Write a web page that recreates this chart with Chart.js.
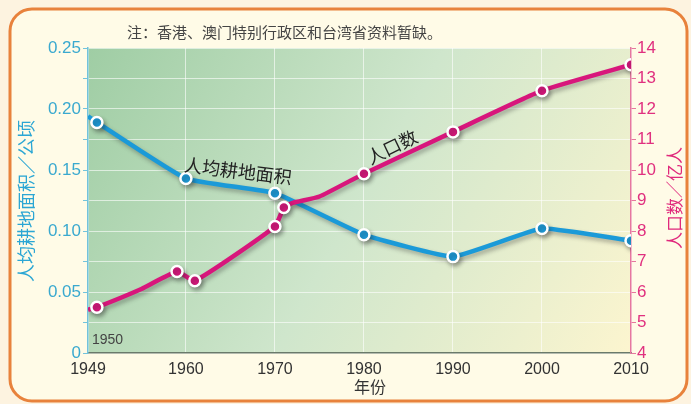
<!DOCTYPE html>
<html lang="zh">
<head>
<meta charset="UTF-8">
<title>人均耕地面积与人口数</title>
<script src="https://cdn.jsdelivr.net/npm/chart.js@4.4.0/dist/chart.umd.min.js"></script>
<style>
  html, body { margin: 0; padding: 0; background: #fdf3e0; }
  #wrap { width: 691px; height: 404px; }
</style>
</head>
<body>
<div id="wrap"><canvas id="chart" width="691" height="404"></canvas></div>
<script>
// x axis tick labels
const yearTicks = [1949, 1960, 1970, 1980, 1990, 2000, 2010];

// 人均耕地面积 (公顷) - left axis
const landYears = [1949, 1950, 1960, 1970, 1980, 1990, 2000, 2010];
const landArea  = [0.194, 0.189, 0.143, 0.131, 0.097, 0.079, 0.102, 0.092];
const landMarked = [1950, 1960, 1970, 1980, 1990, 2000, 2010];

// 人口数 (亿人) - right axis
const popYears = [1949, 1950, 1955, 1959, 1961, 1970, 1971, 1972, 1975, 1980, 1990, 2000, 2010];
const popValues = [5.42, 5.5, 6.1, 6.67, 6.37, 8.15, 8.77, 8.92, 9.13, 9.88, 11.25, 12.6, 13.45];
const popMarked = [1950, 1959, 1961, 1970, 1971, 1980, 1990, 2000, 2010];

const BLUE = '#1b9ad8';
const PINK = '#d8167c';
const FONT = '"Liberation Sans", Arial, sans-serif';
const CJK = '"Noto Sans CJK SC", "Noto Sans", sans-serif';

const toPoints = (xs, ys) => xs.map((x, i) => ({ x: x, y: ys[i] }));

// frame + gradient plot background
const backdrop = {
  id: 'backdrop',
  beforeDraw(chart) {
    const c = chart.ctx, a = chart.chartArea;
    c.save();
    c.fillStyle = '#fdf3e0';
    c.fillRect(0, 0, chart.width, chart.height);
    c.beginPath();
    c.roundRect(10, 9, 677, 392, 22);
    c.fillStyle = '#fffbe7';
    c.fill();
    c.lineWidth = 3;
    c.strokeStyle = '#e8823c';
    c.stroke();
    const g = c.createLinearGradient(a.left, a.top, a.right, a.bottom);
    g.addColorStop(0, '#9fcda4');
    g.addColorStop(0.5, '#cfe6cc');
    g.addColorStop(1, '#fcf5cf');
    c.fillStyle = g;
    c.fillRect(a.left, a.top, a.right - a.left, a.bottom - a.top);
    c.restore();
  }
};

// soft drop shadow under the lines
const lineShadow = {
  id: 'lineShadow',
  beforeDatasetsDraw(chart) {
    const c = chart.ctx;
    c.save();
    c.shadowColor = 'rgba(40,40,40,0.35)';
    c.shadowBlur = 4;
    c.shadowOffsetX = 2;
    c.shadowOffsetY = 3;
  },
  afterDatasetsDraw(chart) {
    chart.ctx.restore();
  }
};

// note, axis titles and line labels
const labels = {
  id: 'labels',
  afterDraw(chart) {
    const c = chart.ctx;
    c.save();
    c.textBaseline = 'middle';

    c.fillStyle = '#444';
    c.font = '15px ' + CJK;
    c.textAlign = 'left';
    c.fillText('注：香港、澳门特别行政区和台湾省资料暂缺。', 127, 32);

    c.font = '16px ' + CJK;
    c.fillStyle = '#333';
    c.textAlign = 'center';
    c.fillText('年份', 370, 387);

    c.font = '14px ' + FONT;
    c.fillStyle = '#444';
    c.textAlign = 'left';
    c.fillText('1950', 92, 340);

    // left axis title
    c.save();
    c.translate(26, 201);
    c.rotate(-Math.PI / 2);
    c.font = '18px ' + CJK;
    c.fillStyle = '#2ba6d4';
    c.textAlign = 'center';
    c.fillText('人均耕地面积／公顷', 0, 0);
    c.restore();

    // right axis title
    c.save();
    c.translate(675, 198);
    c.rotate(-Math.PI / 2);
    c.font = '17px ' + CJK;
    c.fillStyle = '#e0287c';
    c.textAlign = 'center';
    c.fillText('人口数／亿人', 0, 0);
    c.restore();

    // series labels
    c.save();
    c.translate(238, 171);
    c.rotate(0.12);
    c.font = '18px ' + CJK;
    c.fillStyle = '#222';
    c.textAlign = 'center';
    c.fillText('人均耕地面积', 0, 0);
    c.restore();

    c.save();
    c.translate(392, 147);
    c.rotate(-0.45);
    c.font = '18px ' + CJK;
    c.fillStyle = '#222';
    c.textAlign = 'center';
    c.fillText('人口数', 0, 0);
    c.restore();

    c.restore();
  }
};

new Chart(document.getElementById('chart'), {
  type: 'line',
  data: {
    datasets: [
      {
        label: '人口数',
        data: toPoints(popYears, popValues),
        yAxisID: 'yR',
        borderColor: PINK,
        borderWidth: 4.5,
        tension: 0.15,
        pointRadius: ctx => popMarked.includes(ctx.raw && ctx.raw.x) ? 5.5 : 0,
        pointBackgroundColor: PINK,
        pointBorderColor: '#ffffff',
        pointBorderWidth: 2.5
      },
      {
        label: '人均耕地面积',
        data: toPoints(landYears, landArea),
        yAxisID: 'yL',
        borderColor: BLUE,
        borderWidth: 4.5,
        tension: 0.12,
        pointRadius: ctx => landMarked.includes(ctx.raw && ctx.raw.x) ? 5.5 : 0,
        pointBackgroundColor: BLUE,
        pointBorderColor: '#ffffff',
        pointBorderWidth: 2.5
      }
    ]
  },
  options: {
    responsive: false,
    animation: false,
    devicePixelRatio: 1,
    layout: { padding: { top: 48, left: 0, right: 0, bottom: 0 } },
    plugins: {
      legend: { display: false },
      tooltip: { enabled: false }
    },
    scales: {
      x: {
        type: 'linear',
        min: 1949,
        max: 2010,
        afterBuildTicks: s => { s.ticks = yearTicks.map(v => ({ value: v })); },
        afterFit: s => { s.height = 51; },
        ticks: {
          color: '#333',
          font: { family: FONT, size: 16 },
          padding: 7,
          maxRotation: 0,
          callback: v => String(v)
        },
        grid: { color: 'rgba(255,255,255,0.6)', lineWidth: 1, drawTicks: false },
        border: { color: '#6a7a6a', width: 1.5 }
      },
      yL: {
        position: 'left',
        min: 0,
        max: 0.25,
        afterFit: s => { s.width = 88; },
        ticks: {
          stepSize: 0.025,
          color: '#3aa9cf',
          font: { family: FONT, size: 17 },
          padding: 2,
          callback: v => {
            const m = Math.round(v * 1000);
            if (m % 50 !== 0) return '';
            return m === 0 ? '0' : (m / 1000).toFixed(2);
          }
        },
        grid: { color: 'rgba(255,255,255,0.6)', lineWidth: 1, tickLength: 5, tickColor: '#72c3dc' },
        border: { color: '#72c3dc', width: 1.5 }
      },
      yR: {
        position: 'right',
        min: 4,
        max: 14,
        afterFit: s => { s.width = 60; },
        ticks: {
          stepSize: 1,
          color: '#e0307f',
          font: { family: FONT, size: 17 },
          padding: 1
        },
        grid: { drawOnChartArea: false, tickLength: 5, tickColor: '#e6779f' },
        border: { color: '#e6779f', width: 1.5 }
      }
    }
  },
  plugins: [backdrop, lineShadow, labels]
});
</script>
</body>
</html>
